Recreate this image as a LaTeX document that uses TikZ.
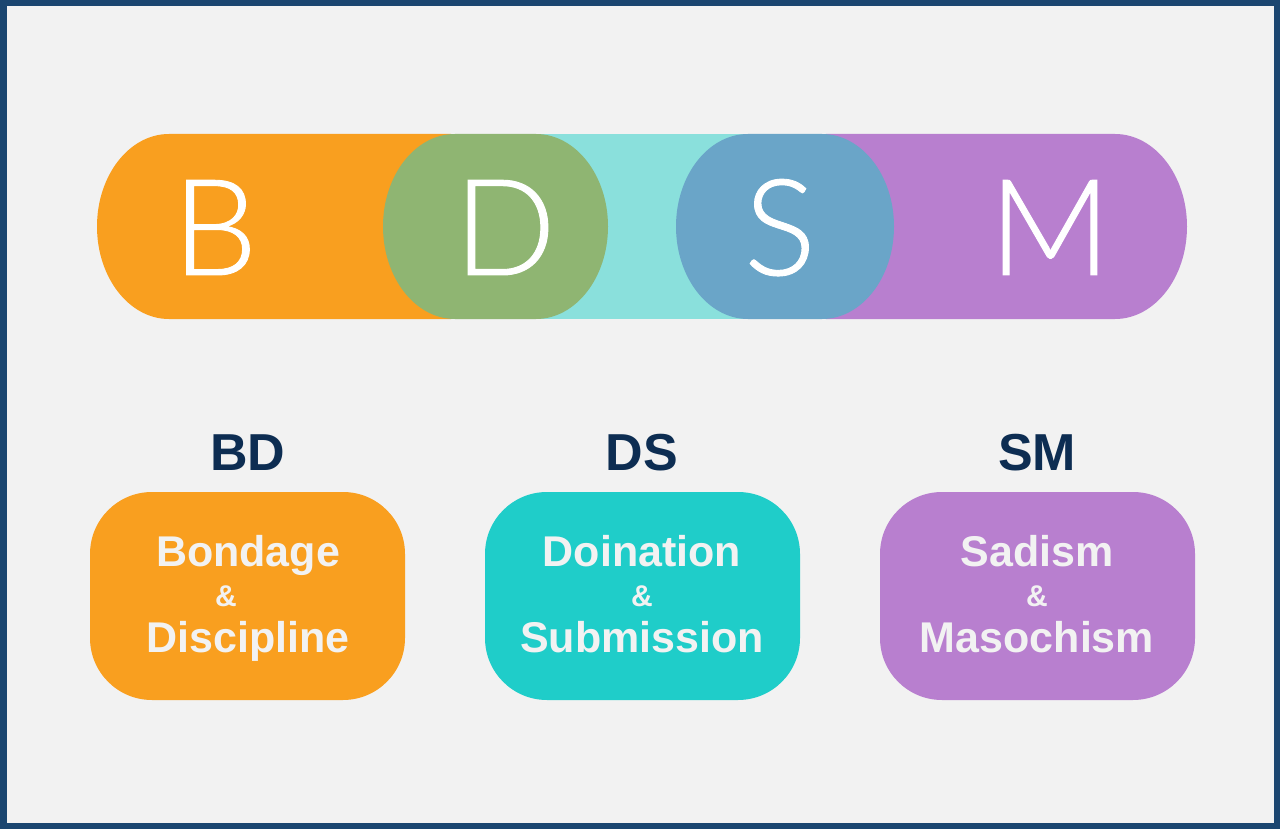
\documentclass[tikz,border=0pt]{standalone}
\usepackage{fontspec}
\setmainfont{Liberation Sans}
\newfontfamily\thinfont{Lato Light}[FakeBold=0.7]
\definecolor{frame}{HTML}{1B4670}
\definecolor{bg}{HTML}{F2F2F2}
\definecolor{orng}{HTML}{F99F1F}
\definecolor{grn}{HTML}{8FB572}
\definecolor{lcyan}{HTML}{8AE0DC}
\definecolor{blu}{HTML}{6AA5C8}
\definecolor{purp}{HTML}{B87FCF}
\definecolor{tcyan}{HTML}{1FCDC9}
\definecolor{navy}{HTML}{0D2D52}
\definecolor{boxtext}{HTML}{F2F2F2}
\begin{document}
\begin{tikzpicture}[x=1pt,y=-1pt,
  bigletter/.style={text=white, font=\thinfont\fontsize{134}{134}\selectfont, anchor=base, inner sep=0pt},
  tag/.style={text=navy, font=\bfseries\fontsize{52}{52}\selectfont, anchor=base, inner sep=0pt},
  card/.style={fill=#1, draw=none, rounded corners=62pt},
  cardtext/.style={text=boxtext, font=\bfseries\fontsize{43}{43}\selectfont, anchor=base, inner sep=0pt},
  amp/.style={text=boxtext, font=\bfseries\fontsize{30}{30}\selectfont, anchor=base, inner sep=0pt}]
\useasboundingbox (0,0) rectangle (1280,829);
\fill[frame] (0,0) rectangle (1280,829);
\fill[bg] (7,6) rectangle (1274,823);
% bar
\fill[lcyan] (440,134) rectangle (840,319);
\newcommand{\pillpath}[3]{% left, right, color
  \fill[#3] (#1+72,134) -- (#2-72,134) arc[start angle=-90,end angle=90,x radius=72,y radius=92.5]
    -- (#1+72,319) arc[start angle=90,end angle=270,x radius=72,y radius=92.5] -- cycle;}
\pillpath{97}{523}{orng}
\pillpath{754}{1187}{purp}
\pillpath{383}{608}{grn}
\pillpath{676}{894}{blu}
\node[bigletter] (B) at (215,275) {B};
\node[bigletter] (D) at (505,275) {D};
\node[bigletter] (S) at (780,275) {S};
\node[bigletter] (M) at (1050,275) {M};
% tags
\node[tag] (bd) at (248,470) {BD};
\node[tag] (ds) at (642,470) {DS};
\node[tag] (sm) at (1037,470) {SM};
% cards
\fill[card=orng] (90,492) rectangle (405,700);
\fill[card=tcyan] (485,492) rectangle (800,700);
\fill[card=purp] (880,492) rectangle (1195,700);
\node[cardtext] (bd1) at (248,566) {Bondage};
\node[amp] (bd2) at (226,606) {\&};
\node[cardtext] (bd3) at (248,652) {Discipline};
\node[cardtext] (ds1) at (642,566) {Doination};
\node[amp] (ds2) at (642,606) {\&};
\node[cardtext] (ds3) at (642,652) {Submission};
\node[cardtext] (sm1) at (1037,566) {Sadism};
\node[amp] (sm2) at (1037,606) {\&};
\node[cardtext] (sm3) at (1037,652) {Masochism};
\end{tikzpicture}
\end{document}
